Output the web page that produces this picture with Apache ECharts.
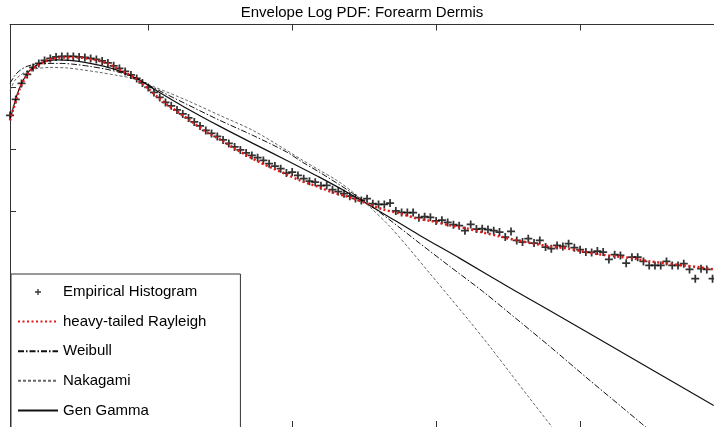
<!DOCTYPE html>
<html>
<head>
<meta charset="utf-8">
<script src="https://cdn.jsdelivr.net/npm/echarts@6/dist/echarts.min.js"></script>
<style>
html,body{margin:0;padding:0;background:#fff;}
#chart{width:714px;height:427px;}
</style>
</head>
<body>
<div id="chart"></div>
<script>
const titleText = 'Envelope Log PDF: Forearm Dermis';
const seriesNames = ['Empirical Histogram', 'heavy-tailed Rayleigh', 'Weibull', 'Nakagami', 'Gen Gamma'];
const xTicks = [1, 2, 3, 4];
const yTicks = [-1, -2, -3, -4, -5, -6];

const histX = [
  0.04,0.08,0.12,0.16,0.20,0.24,0.28,0.32,0.36,0.40,
  0.44,0.48,0.52,0.56,0.60,0.64,0.68,0.72,0.76,0.80,
  0.84,0.88,0.92,0.96,1.00,1.04,1.08,1.12,1.16,1.20,
  1.24,1.28,1.32,1.36,1.40,1.44,1.48,1.52,1.56,1.60,
  1.64,1.68,1.72,1.76,1.80,1.84,1.88,1.92,1.96,2.00,
  2.04,2.08,2.12,2.16,2.20,2.24,2.28,2.32,2.36,2.40,
  2.44,2.48,2.52,2.56,2.60,2.64,2.68,2.72,2.76,2.80,
  2.84,2.88,2.92,2.96,3.00,3.04,3.08,3.12,3.16,3.20,
  3.24,3.28,3.32,3.36,3.40,3.44,3.48,3.52,3.56,3.60,
  3.64,3.68,3.72,3.76,3.80,3.84,3.88,3.92,3.96,4.00,
  4.04,4.08,4.12,4.16,4.20,4.24,4.28,4.32,4.36,4.40,
  4.44,4.48,4.52,4.56,4.60,4.64,4.68,4.72,4.76,4.80,
  4.84,4.88,4.92
];
const histY = [
  -1.457,-1.200,-0.944,-0.800,-0.688,-0.623,-0.575,-0.543,-0.519,-0.511,
  -0.511,-0.511,-0.519,-0.527,-0.543,-0.559,-0.583,-0.615,-0.663,-0.704,
  -0.752,-0.808,-0.864,-0.936,-1.008,-1.088,-1.168,-1.248,-1.304,-1.369,
  -1.433,-1.497,-1.561,-1.625,-1.697,-1.745,-1.793,-1.849,-1.905,-1.962,
  -2.010,-2.058,-2.098,-2.135,-2.178,-2.231,-2.269,-2.311,-2.381,-2.365,
  -2.418,-2.471,-2.510,-2.526,-2.583,-2.579,-2.647,-2.678,-2.712,-2.752,
  -2.787,-2.819,-2.792,-2.872,-2.883,-2.883,-2.862,-2.987,-3.011,-3.014,
  -3.014,-3.096,-3.080,-3.090,-3.147,-3.136,-3.171,-3.207,-3.224,-3.304,
  -3.204,-3.279,-3.272,-3.287,-3.304,-3.327,-3.407,-3.316,-3.460,-3.487,
  -3.433,-3.503,-3.460,-3.567,-3.593,-3.540,-3.556,-3.513,-3.577,-3.609,
  -3.647,-3.652,-3.631,-3.647,-3.764,-3.689,-3.700,-3.824,-3.728,-3.728,
  -3.796,-3.861,-3.861,-3.861,-3.796,-3.861,-3.861,-3.833,-3.925,-4.074,
  -3.913,-3.925,-4.074
];

const rayleighX = [0.04,0.06,0.081,0.109,0.144,0.178,0.22,0.269,0.317,0.366,0.435,0.505,0.574,0.644,0.713,0.783,0.852,0.922,0.991,1.06,1.13,1.22,1.31,1.408,1.498,1.588,1.685,1.776,1.866,1.963,2.053,2.172,2.283,2.401,2.519,2.63,2.748,2.866,2.977,3.095,3.213,3.324,3.442,3.561,3.672,3.79,3.908,4.019,4.137,4.255,4.366,4.484,4.602,4.713,4.831,4.928];
const rayleighY = [-1.537,-1.377,-1.216,-1.024,-0.864,-0.752,-0.671,-0.607,-0.559,-0.535,-0.527,-0.527,-0.543,-0.575,-0.623,-0.704,-0.784,-0.880,-1.008,-1.152,-1.280,-1.425,-1.569,-1.729,-1.841,-1.970,-2.098,-2.210,-2.306,-2.402,-2.498,-2.594,-2.691,-2.771,-2.867,-2.963,-3.027,-3.107,-3.155,-3.219,-3.268,-3.332,-3.396,-3.460,-3.508,-3.556,-3.588,-3.636,-3.684,-3.716,-3.748,-3.796,-3.828,-3.860,-3.892,-3.924];

const weibullX = [0.04,0.074,0.109,0.158,0.213,0.283,0.387,0.491,0.595,0.699,0.803,0.908,1.033,1.269,1.498,1.727,1.963,2.074,2.192,2.421,2.609,2.887,3.095,3.324,3.512,3.79,4.067,4.276,4.484];
const weibullY = [-0.944,-0.816,-0.736,-0.671,-0.639,-0.623,-0.623,-0.639,-0.671,-0.712,-0.768,-0.848,-1.008,-1.280,-1.537,-1.777,-2.045,-2.210,-2.370,-2.707,-3.011,-3.508,-3.877,-4.277,-4.631,-5.160,-5.703,-6.104,-6.505];

const nakagamiX = [0.04,0.074,0.109,0.158,0.213,0.317,0.435,0.547,0.665,0.783,0.894,1.033,1.269,1.498,1.727,1.963,2.074,2.192,2.31,2.421,2.54,2.678,2.817,2.956,3.095,3.234,3.373,3.512,3.651,3.824];
const nakagamiY = [-1.056,-0.896,-0.816,-0.752,-0.712,-0.688,-0.696,-0.728,-0.768,-0.816,-0.864,-0.992,-1.216,-1.457,-1.697,-2.018,-2.178,-2.338,-2.498,-2.686,-2.926,-3.236,-3.604,-3.989,-4.373,-4.760,-5.160,-5.577,-5.994,-6.505];

const gammaX = [0.04,0.067,0.095,0.13,0.178,0.234,0.303,0.373,0.456,0.56,0.665,0.769,0.873,0.956,1.033,1.269,1.498,1.727,1.963,2.192,2.421,2.609,2.887,3.165,3.532,3.776,4.137,4.484,4.928];
const gammaY = [-1.537,-1.296,-1.088,-0.896,-0.736,-0.639,-0.583,-0.567,-0.575,-0.607,-0.655,-0.720,-0.816,-0.912,-1.024,-1.345,-1.633,-1.905,-2.178,-2.450,-2.739,-2.995,-3.380,-3.748,-4.245,-4.566,-5.048,-5.513,-6.106];

function zip(xs, ys) {
  const n = Math.min(xs.length, ys.length);
  const out = [];
  for (let i = 0; i < n; i++) out.push([xs[i], ys[i]]);
  return out;
}

const FONT = '"Liberation Sans", Arial, Helvetica, sans-serif';
const PLUS = 'path://M3.9,0H6.1V3.9H10V6.1H6.1V10H3.9V6.1H0V3.9H3.9Z';
const axisColor = '#333';
const HIDE = {color: 'rgba(0,0,0,0)', borderColor: 'rgba(0,0,0,0)', borderWidth: 0};

const chart = echarts.init(document.getElementById('chart'), null, {renderer: 'canvas'});

function xAxisDef(pos, showLine) {
  return {
    type: 'value', position: pos, min: 0.04, max: 4.93,
    axisLine: {show: showLine, onZero: false, lineStyle: {color: axisColor, width: 1}},
    axisTick: {show: true, inside: true, length: 6, customValues: xTicks, lineStyle: {color: axisColor}},
    axisLabel: {show: false},
    splitLine: {show: false}
  };
}

const option = {
  animation: false,
  backgroundColor: '#fff',
  title: {
    text: titleText, left: 362, top: 5, textAlign: 'center', padding: 0,
    textStyle: {fontSize: 15, fontWeight: 'normal', fontFamily: FONT, color: '#000', lineHeight: 16}
  },
  grid: {left: 10, top: 24.5, right: 0, bottom: 0, containLabel: false},
  xAxis: [xAxisDef('bottom', false), xAxisDef('top', true)],
  yAxis: {
    type: 'value', min: -6.45, max: 0,
    axisLine: {show: true, onZero: false, lineStyle: {color: axisColor, width: 1}},
    axisTick: {show: true, inside: true, length: 6, customValues: yTicks, lineStyle: {color: axisColor}},
    axisLabel: {show: false},
    splitLine: {show: false}
  },
  legend: {
    orient: 'vertical', left: 11, top: 274, height: 400,
    padding: [8, 34, 80, 6],
    itemWidth: 40, itemHeight: 6, itemGap: 9.6,
    backgroundColor: '#fff', borderColor: '#333', borderWidth: 1, borderRadius: 0,
    textStyle: {fontSize: 15, fontFamily: FONT, color: '#000', lineHeight: 20},
    data: [
      {name: seriesNames[0]},
      {name: seriesNames[1], itemStyle: HIDE},
      {name: seriesNames[2], itemStyle: HIDE},
      {name: seriesNames[3], itemStyle: HIDE},
      {name: seriesNames[4], itemStyle: HIDE}
    ],
    selectedMode: false
  },
  series: [
    {
      name: seriesNames[0], type: 'scatter', data: zip(histX, histY),
      symbol: PLUS, symbolSize: 8, itemStyle: {color: '#000'}, z: 3
    },
    {
      name: seriesNames[1], type: 'line', data: zip(rayleighX, rayleighY), smooth: 0.3,
      symbol: 'none', showSymbol: false,
      lineStyle: {color: '#e01818', width: 2.5, type: [2, 2.5], cap: 'butt'},
      itemStyle: {color: '#e01818'}, z: 4
    },
    {
      name: seriesNames[2], type: 'line', data: zip(weibullX, weibullY), smooth: 0.3,
      symbol: 'none', showSymbol: false,
      lineStyle: {color: '#111', width: 1, type: [6, 2, 1.5, 2]},
      itemStyle: {color: '#111'}
    },
    {
      name: seriesNames[3], type: 'line', data: zip(nakagamiX, nakagamiY), smooth: 0.3,
      symbol: 'none', showSymbol: false,
      lineStyle: {color: '#666', width: 1, type: [3, 2]},
      itemStyle: {color: '#666'}
    },
    {
      name: seriesNames[4], type: 'line', data: zip(gammaX, gammaY), smooth: 0.3,
      symbol: 'none', showSymbol: false,
      lineStyle: {color: '#111', width: 1.2, type: 'solid'},
      itemStyle: {color: '#111'}
    }
  ]
};
chart.setOption(option);
</script>
</body>
</html>
